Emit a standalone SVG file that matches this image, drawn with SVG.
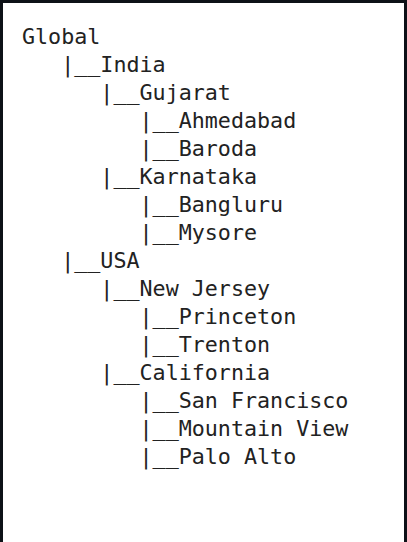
<svg xmlns="http://www.w3.org/2000/svg" width="407" height="542" viewBox="0 0 407 542">
  <style>
    .t { font-family: "DejaVu Sans Mono", "Liberation Mono", monospace; font-size: 21.7px; fill: #222222; white-space: pre; }
  </style>
  <!-- page and frame -->
  <rect x="0" y="0" width="407" height="542" fill="#ffffff"/>
  <rect x="0" y="0" width="407" height="3" fill="#0d1117"/>
  <rect x="0" y="0" width="3" height="542" fill="#0d1117"/>
  <rect x="404" y="0" width="3" height="542" fill="#0d1117"/>
  <!-- tree lines -->
  <g id="tree">
    <text class="t" x="22" y="44">Global</text>
    <text class="t" x="22" y="72">   |__India</text>
    <text class="t" x="22" y="100">      |__Gujarat</text>
    <text class="t" x="22" y="128">         |__Ahmedabad</text>
    <text class="t" x="22" y="156">         |__Baroda</text>
    <text class="t" x="22" y="184">      |__Karnataka</text>
    <text class="t" x="22" y="212">         |__Bangluru</text>
    <text class="t" x="22" y="240">         |__Mysore</text>
    <text class="t" x="22" y="268">   |__USA</text>
    <text class="t" x="22" y="296">      |__New Jersey</text>
    <text class="t" x="22" y="324">         |__Princeton</text>
    <text class="t" x="22" y="352">         |__Trenton</text>
    <text class="t" x="22" y="380">      |__California</text>
    <text class="t" x="22" y="408">         |__San Francisco</text>
    <text class="t" x="22" y="436">         |__Mountain View</text>
    <text class="t" x="22" y="464">         |__Palo Alto</text>
  </g>
</svg>
